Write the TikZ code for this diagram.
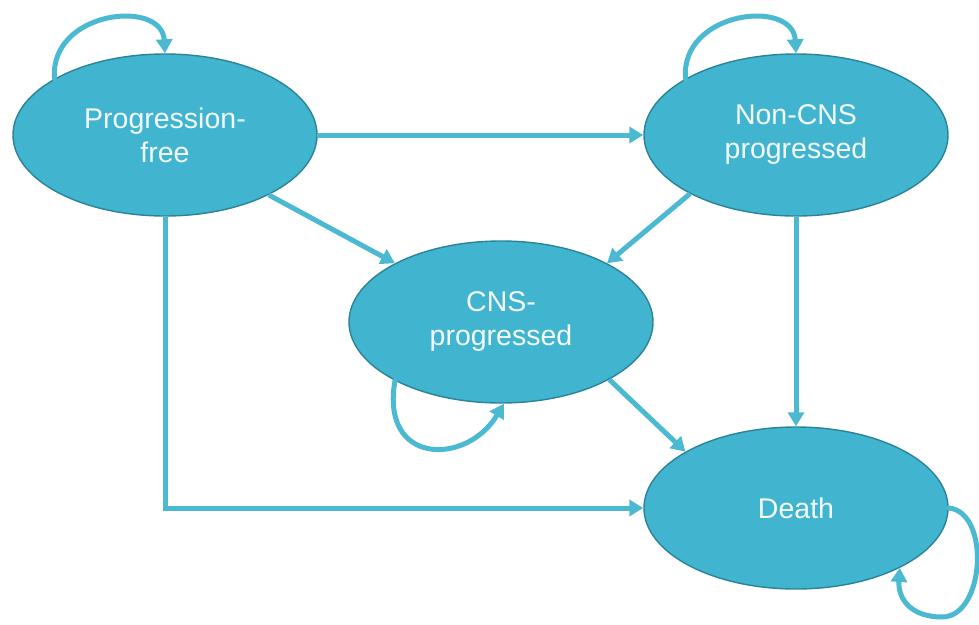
\documentclass[tikz,border=0pt]{standalone}
\usepackage{fontspec}
\setmainfont{Liberation Sans}
\usetikzlibrary{shapes.geometric,arrows.meta}
\definecolor{statefill}{HTML}{41B4CF}
\definecolor{stateedge}{HTML}{2B8398}
\definecolor{arrowcol}{HTML}{4CB9D3}
\definecolor{textcol}{HTML}{F2FAFC}
\begin{document}
\begin{tikzpicture}[x=1pt,y=-1pt,
  state/.style={ellipse,draw=stateedge,line width=1.4pt,fill=statefill,
    minimum width=304pt,minimum height=162pt,inner sep=0pt,
    text=textcol,align=center,font=\fontsize{28.5}{34}\selectfont},
  conn/.style={draw=arrowcol,line width=5pt,
    -{Triangle[width=16pt,length=14pt]}},
  loopc/.style={conn,line cap=round}]
\useasboundingbox (0,0) rectangle (979,624);
\node[state] (pf) at (165,135) {Progression-\\free};
\node[state] (ncns) at (796,135) {Non-CNS\\progressed};
\node[state] (cns) at (501,322) {CNS-\\progressed};
\node[state] (death) at (796,508) {Death};
\coordinate (dl) at (942,617);
% connectors
\draw[conn] (pf.east) -- (ncns.west);
\draw[conn] (pf.330) -- (cns.151);
\draw[conn] (ncns.209) -- (cns.29);
\draw[conn] (ncns.south) -- (death.north);
\draw[conn] (cns.332) -- (death.153);
\draw[conn] (pf.south) |- (death.west);
% self loops
\draw[loopc] (pf.153) .. controls +(-5,-68) and +(-3,-55) .. (pf.north);
\draw[loopc] (ncns.153) .. controls +(-5,-68) and +(-3,-55) .. (ncns.north);
\draw[loopc] (cns.209) .. controls +(-15,85) and +(-37,62) .. (cns.272);
\draw[loopc] (death.east) .. controls +(42,4) and +(43,0) .. (dl)
  .. controls +(-30,0) and +(-2,32) .. (death.330);
\end{tikzpicture}
\end{document}
